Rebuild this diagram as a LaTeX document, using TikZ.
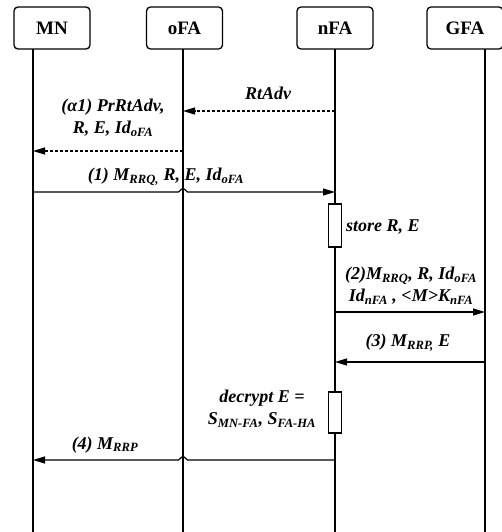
\documentclass[tikz,border=0pt]{standalone}
\usepackage{fontspec}
\setmainfont{Liberation Serif}
\usetikzlibrary{arrows.meta,positioning,calc}
\tikzset{
  ent/.style  ={draw,line width=1.3pt,rounded corners=4pt,minimum width=76pt,
                minimum height=42pt,inner sep=0pt,font=\fontsize{19}{20}\selectfont\bfseries},
  life/.style ={draw,line width=1.3pt},
  msg/.style  ={-{Triangle[length=12pt,width=7pt]},line width=1.2pt},
  adv/.style  ={msg,dash pattern=on 3pt off 2pt},
  act/.style  ={draw,line width=1.2pt,fill=white,minimum width=13pt,inner sep=0pt},
  lbl/.style  ={inner sep=0pt,align=center,font=\fontsize{18}{22}\selectfont\bfseries\itshape},
}
\newcommand{\lo}[1]{\textsubscript{#1}}

\begin{document}
\begin{tikzpicture}[x=1pt,y=1pt]
\useasboundingbox (0,0) rectangle (502,-532);
% entities
\node[ent] (mn)  at (52,-28)    {MN};
\node[ent] (ofa) at (184.5,-28) {oFA};
\node[ent] (nfa) at (335,-28)   {nFA};
\node[ent] (gfa) at (465,-28)   {GFA};

% lifelines
\coordinate (mnT)  at (33,-49);   \coordinate (mnB)  at (33,-532);
\coordinate (ofaT) at (183,-49);  \coordinate (ofaB) at (183,-532);
\coordinate (nfaT) at (335,-49);  \coordinate (nfaB) at (335,-532);
\coordinate (gfaT) at (485,-49);  \coordinate (gfaB) at (485,-532);
\foreach \l in {mn,ofa,nfa,gfa}
  \draw[life] (\l T) -- (\l B);

% activations
\node[act,minimum height=43pt] (store) at (335,-225.5) {};
\node[act,minimum height=41pt] (decr)  at (335,-412.5) {};

% advertisements
\draw[adv] (nfaT |- 0,-111) -- (ofaT |- 0,-111);
\node[lbl] (rtadv) at (268,-93) {RtAdv};
\draw[adv] (ofaT |- 0,-151) -- (mnT |- 0,-151);
\node[lbl] (prrt) at (113,-118) {(α1) PrRtAdv,\\R, E, Id\lo{oFA}};

% (1) registration request, hop over oFA
\draw[msg] (mnT |- 0,-192) -- ($(ofaT |- 0,-192)+(-4.5,0)$) -- ++(4.5,4)
  -- ++(4.5,-4) -- (nfaT |- 0,-192);
\node[lbl] (m1) at (166,-177) {(1) M\lo{RRQ,} R, E, Id\lo{oFA}};
\node[lbl,anchor=west] (m1s) at (346,-227) {store R, E};

% (2) to GFA
\draw[msg] (nfaT |- 0,-312) -- (gfaT |- 0,-312);
\node[lbl] (m2) at (411,-286) {(2)M\lo{RRQ}, R, Id\lo{oFA}\\Id\lo{nFA} , <M>K\lo{nFA}};

% (3) reply from GFA
\draw[msg] (gfaT |- 0,-362) -- (nfaT |- 0,-362);
\node[lbl] (m3) at (408,-343) {(3) M\lo{RRP,} E};
\node[lbl] (dec) at (262,-409) {decrypt E =\\S\lo{MN-FA}, S\lo{FA-HA}};

% (4) reply to MN, hop over oFA
\draw[msg] (nfaT |- 0,-460) -- ($(ofaT |- 0,-460)+(4.5,0)$) -- ++(-4.5,4)
  -- ++(-4.5,-4) -- (mnT |- 0,-460);
\node[lbl] (m4) at (105,-445) {(4) M\lo{RRP}};
\end{tikzpicture}
\end{document}
